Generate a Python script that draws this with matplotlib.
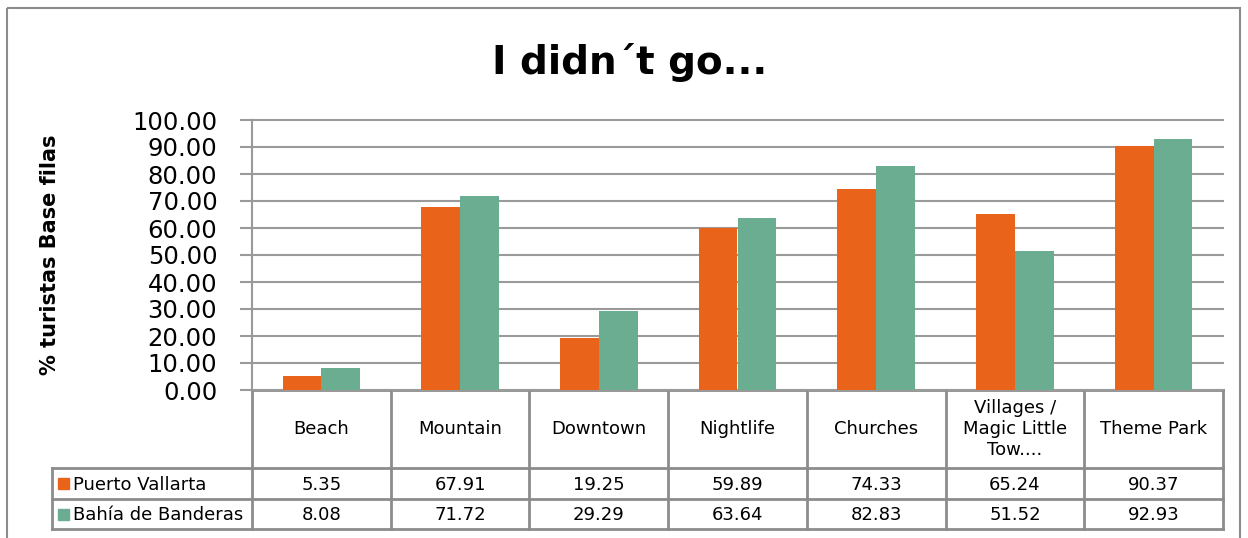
import matplotlib
matplotlib.use("Agg")
import matplotlib.pyplot as plt
from matplotlib.patches import Rectangle
import numpy as np

# ---- data ----
categories = ["Beach", "Mountain", "Downtown", "Nightlife", "Churches",
              "Villages /\nMagic Little\nTow....", "Theme Park"]
series_names = ["Puerto Vallarta", "Bahía de Banderas"]
puerto_vallarta = [5.35, 67.91, 19.25, 59.89, 74.33, 65.24, 90.37]
bahia_banderas = [8.08, 71.72, 29.29, 63.64, 82.83, 51.52, 92.93]
yticks = np.arange(0, 101, 10)

colors = ["#E9631A", "#6AAD91"]
grid_c = "#9a9a9a"
W, H = 1248, 538

plt.rcParams['font.family'] = 'DejaVu Sans'
fig = plt.figure(figsize=(W / 100, H / 100), dpi=100)

# pixel layout of the plot area
left_px, right_px, top_px, zero_px = 252, 1223, 120, 390
ax = fig.add_axes([left_px / W, 1 - zero_px / H,
                   (right_px - left_px) / W, (zero_px - top_px) / H])

x = np.arange(len(categories))
bw = 0.28
ax.bar(x - bw / 2, puerto_vallarta, bw, color=colors[0], zorder=3)
ax.bar(x + bw / 2, bahia_banderas, bw, color=colors[1], zorder=3)

ax.set_xlim(-0.5, len(categories) - 0.5)
ax.set_ylim(0, 100)
ax.set_yticks(yticks)
ax.set_yticklabels([f"{v:.2f}" for v in yticks], fontsize=17.5)
ax.set_xticks([])
ax.tick_params(axis='y', length=9, width=1.5, color=grid_c, pad=16)
ax.grid(axis='y', color=grid_c, linewidth=1.5, zorder=0)
for gl in ax.get_ygridlines():
    gl.set_clip_on(False)
for s in ["top", "right", "bottom"]:
    ax.spines[s].set_visible(False)
ax.spines["left"].set_color(grid_c)
ax.spines["left"].set_linewidth(1.5)

ax.set_ylabel("% turistas Base filas", fontsize=15, fontweight='bold')
ax.yaxis.set_label_coords(-(left_px - 60) / (right_px - left_px), 0.5)

# ---- overlay in pixel coords for data table, border and title ----
ov = fig.add_axes([0, 0, 1, 1], zorder=-1)
ov.set_xlim(0, W)
ov.set_ylim(H, 0)
ov.axis("off")

tc = "#8c8c8c"
lw = 2
n = len(categories)
col_w = (right_px - left_px) / n
row1, row2, row3 = 468, 499, 529
tab_left = 52

# category row vertical lines
for i in range(n + 1):
    xx = left_px + i * col_w
    ov.plot([xx, xx], [zero_px, row3], color=tc, lw=lw)
ov.plot([left_px, right_px], [zero_px, zero_px], color=tc, lw=lw)
for yy in (row1, row2, row3):
    ov.plot([tab_left, right_px], [yy, yy], color=tc, lw=lw)
ov.plot([tab_left, tab_left], [row1, row3], color=tc, lw=lw)

for i, cat in enumerate(categories):
    ov.text(left_px + (i + 0.5) * col_w, (zero_px + row1) / 2, cat,
            ha='center', va='center', fontsize=13, linespacing=1.2)

for r, (name, vals) in enumerate(zip(series_names, [puerto_vallarta, bahia_banderas])):
    y0 = [row1, row2][r]
    yc = y0 + (row2 - row1) / 2
    ov.add_patch(Rectangle((58, yc - 6), 11, 11, color=colors[r]))
    ov.text(73, yc + 1, name, ha='left', va='center', fontsize=13)
    for i, v in enumerate(vals):
        ov.text(left_px + (i + 0.5) * col_w, yc + 1, f"{v:.2f}",
                ha='center', va='center', fontsize=13)

# outer chart border
ov.add_patch(Rectangle((7, 8), 1233, 560, fill=False, edgecolor="#8c8c8c", lw=1.5))

fig.text(630 / W, 1 - 62 / H, "I didn´t go...", ha='center', va='center',
         fontsize=28, fontweight='bold')

fig.savefig("out.png", dpi=100)
